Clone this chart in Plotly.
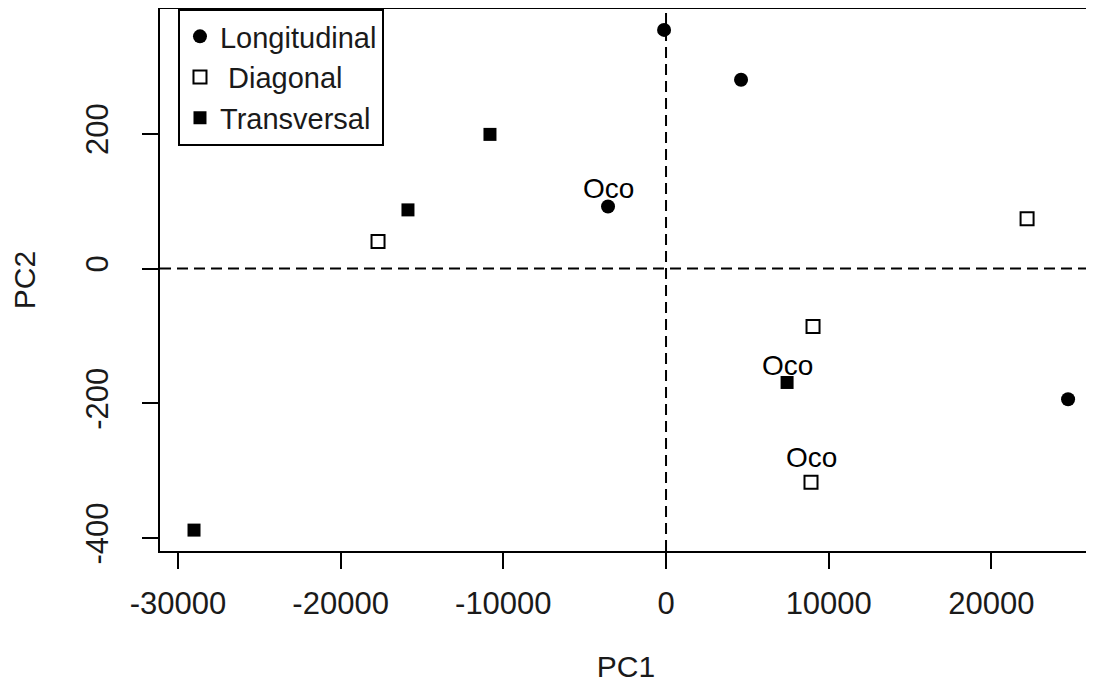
import plotly.graph_objects as go

# ---- data ----
long_x = [-120, 4610, -3565, 24710]
long_y = [354, 280, 92, -194]
diag_x = [-17700, 22190, 9035, 8910]
diag_y = [40, 74, -86, -317]
trans_x = [-29010, -15860, -10820, 7440]
trans_y = [-388, 87, 199, -169]

oco_x = [-3565, 7440, 8910]
oco_y = [92, -169, -317]
oco_text = ["Oco", "Oco", "Oco"]
oco_shift = [18, 17, 25]

x_ticks = [-30000, -20000, -10000, 0, 10000, 20000]
y_ticks = [-400, -200, 0, 200]
x_range = [-31100, 26180]
y_range = [-419, 385]

FONT = "Liberation Sans, Arial, sans-serif"
TXT = "#1a1a1a"

fig = go.Figure()
fig.add_trace(go.Scatter(x=long_x, y=long_y, mode="markers", name="Longitudinal",
                         marker=dict(symbol="circle", size=14, color="black")))
fig.add_trace(go.Scatter(x=diag_x, y=diag_y, mode="markers", name="\u00a0Diagonal",
                         marker=dict(symbol="square-open", size=13, color="black",
                                     line=dict(width=2, color="black"))))
fig.add_trace(go.Scatter(x=trans_x, y=trans_y, mode="markers", name="Transversal",
                         marker=dict(symbol="square", size=13, color="black")))

for xv, yv, t, s in zip(oco_x, oco_y, oco_text, oco_shift):
    fig.add_annotation(x=xv, y=yv, text=t, showarrow=False, yshift=s,
                       font=dict(family=FONT, size=28, color="black"))

fig.add_hline(y=0, line=dict(color="black", width=2, dash="11px,6px"))
fig.add_vline(x=0, line=dict(color="black", width=2, dash="11px,6px"))

axis_common = dict(showline=True, linecolor="black", linewidth=2, mirror=True,
                   ticks="outside", ticklen=16, tickwidth=2, tickcolor="black",
                   showgrid=False, zeroline=False, automargin=False,
                   tickfont=dict(family=FONT, size=31, color=TXT))

fig.update_xaxes(range=x_range, tickvals=x_ticks, ticktext=[str(v) for v in x_ticks],
                 ticklabelstandoff=8,
                 title=dict(text="PC1", font=dict(family=FONT, size=30, color=TXT), standoff=36),
                 **axis_common)
fig.update_yaxes(range=y_range, tickvals=y_ticks, ticktext=[str(v) for v in y_ticks],
                 tickangle=-90, ticklabelstandoff=22,
                 title=dict(text="PC2", font=dict(family=FONT, size=30, color=TXT), standoff=36),
                 **axis_common)

# page body has an 8px default margin, so the figure is sized/offset to compensate
fig.update_layout(
    width=1086, height=678, autosize=False,
    margin=dict(l=152, r=2, t=1, b=135),
    plot_bgcolor="white", paper_bgcolor="white",
    font=dict(family=FONT, color=TXT),
    legend=dict(x=0.0193, y=1, xanchor="left", yanchor="top",
                bordercolor="black", borderwidth=2, bgcolor="white",
                font=dict(family=FONT, size=29, color=TXT),
                itemsizing="trace", tracegroupgap=0),
    showlegend=True,
)

fig.write_html("out.html")
